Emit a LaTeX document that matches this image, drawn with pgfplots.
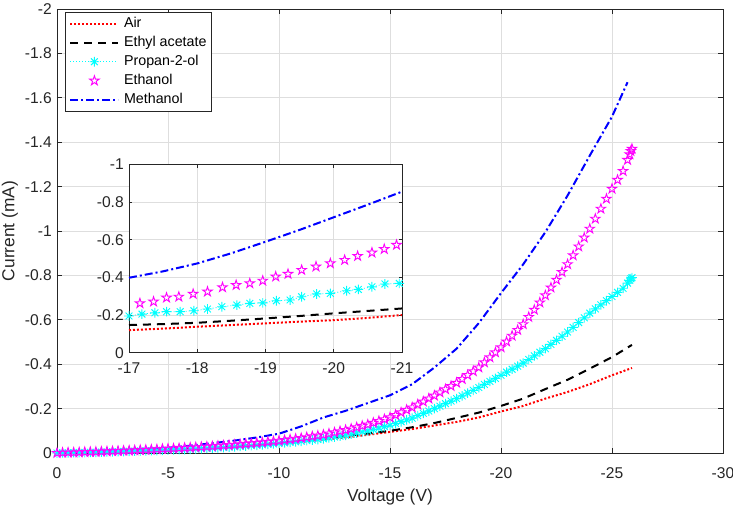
\documentclass[border=0pt]{standalone}
\usepackage{pgfplots}
\pgfplotsset{compat=1.18}
\usepackage{fontspec}
\setmainfont{Liberation Sans}
\usetikzlibrary{plotmarks}
\definecolor{axgray}{rgb}{0.15,0.15,0.15}
\definecolor{gridgray}{rgb}{0.87,0.87,0.87}
\definecolor{mred}{rgb}{1,0,0}
\definecolor{mcyan}{rgb}{0,1,1}
\definecolor{mmag}{rgb}{1,0,1}
\definecolor{mblue}{rgb}{0,0,1}
\pgfdeclareplotmark{pentagramo}{%
  \pgfpathmoveto{\pgfpointpolar{90}{1\pgfplotmarksize}}%
  \pgfpathlineto{\pgfpointpolar{126}{0.382\pgfplotmarksize}}%
  \pgfpathlineto{\pgfpointpolar{162}{1\pgfplotmarksize}}%
  \pgfpathlineto{\pgfpointpolar{198}{0.382\pgfplotmarksize}}%
  \pgfpathlineto{\pgfpointpolar{234}{1\pgfplotmarksize}}%
  \pgfpathlineto{\pgfpointpolar{270}{0.382\pgfplotmarksize}}%
  \pgfpathlineto{\pgfpointpolar{306}{1\pgfplotmarksize}}%
  \pgfpathlineto{\pgfpointpolar{342}{0.382\pgfplotmarksize}}%
  \pgfpathlineto{\pgfpointpolar{18}{1\pgfplotmarksize}}%
  \pgfpathlineto{\pgfpointpolar{54}{0.382\pgfplotmarksize}}%
  \pgfpathclose
  \pgfusepathqstroke
}
\pgfdeclareplotmark{matlabast}{%
  \pgfpathmoveto{\pgfqpoint{-\pgfplotmarksize}{0pt}}%
  \pgfpathlineto{\pgfqpoint{\pgfplotmarksize}{0pt}}%
  \pgfpathmoveto{\pgfqpoint{0pt}{-\pgfplotmarksize}}%
  \pgfpathlineto{\pgfqpoint{0pt}{\pgfplotmarksize}}%
  \pgfpathmoveto{\pgfqpoint{-0.707\pgfplotmarksize}{-0.707\pgfplotmarksize}}%
  \pgfpathlineto{\pgfqpoint{0.707\pgfplotmarksize}{0.707\pgfplotmarksize}}%
  \pgfpathmoveto{\pgfqpoint{-0.707\pgfplotmarksize}{0.707\pgfplotmarksize}}%
  \pgfpathlineto{\pgfqpoint{0.707\pgfplotmarksize}{-0.707\pgfplotmarksize}}%
  \pgfusepathqstroke
}
\pgfplotsset{
  matlab/.style={
    scale only axis,
    x dir=reverse, y dir=reverse,
    grid=major, major grid style={gridgray, line width=0.6pt},
    axis line style={axgray, line width=0.6pt},
    tick style={axgray, line width=0.6pt},
    tick align=inside, xtick pos=both, ytick pos=both,
    xticklabel pos=lower, yticklabel pos=left,
    tick label style={font=\fontsize{11.7}{13}\selectfont, text=axgray, inner sep=0pt},
    yticklabel style={anchor=base east, xshift=-3.75pt, yshift=-4.1pt},
  },
  airstyle/.style={mred, line width=1.5pt, dash pattern=on 1.5pt off 1.5pt},
  ethylstyle/.style={black, line width=1.5pt, dash pattern=on 6pt off 4.5pt},
  propstyle/.style={mcyan, line width=0.6pt, dash pattern=on 0.75pt off 1.5pt, mark=matlabast, mark size=3.6pt, mark options={solid, line width=0.7pt}},
  ethstyle/.style={mmag, only marks, mark=pentagramo, mark size=3.7pt, mark options={solid, line width=0.7pt}},
  methstyle/.style={mblue, line width=1.5pt, dash pattern=on 6pt off 2.25pt on 1.5pt off 2.25pt},
}
\begin{document}
\begin{tikzpicture}
\begin{axis}[matlab, name=main,
  width=499.5pt, height=333pt,
  xmin=-30, xmax=0, ymin=-2, ymax=0,
  xtick={0,-5,-10,-15,-20,-25,-30},
  xticklabels={0,-5,-10,-15,-20,-25,-30},
  ytick={0,-0.2,-0.4,-0.6,-0.8,-1,-1.2,-1.4,-1.6,-1.8,-2},
  yticklabels={0,-0.2,-0.4,-0.6,-0.8,-1,-1.2,-1.4,-1.6,-1.8,-2},
  major tick length=3.5pt,
  xticklabel style={anchor=base, yshift=-19pt},
  xlabel={Voltage (V)}, ylabel={Current (mA)},
  xlabel style={at={(axis description cs:0.5,-0.110)}, anchor=base, font=\fontsize{13}{15}\selectfont, text=axgray},
  ylabel style={at={(axis description cs:-0.064,0.5)}, anchor=base, font=\fontsize{13}{15}\selectfont, text=axgray},
  legend style={at={(axis description cs:0,1)}, anchor=north west, xshift=6pt, yshift=-2pt,
    draw=axgray, line width=0.6pt, fill=white, font=\fontsize{10.7}{12}\selectfont,
    inner xsep=3pt, inner ysep=3pt, row sep=2.75pt, column sep=3pt,
    nodes={inner sep=0.5pt, text height=8pt, text depth=2.5pt}},
  legend cell align=left,
  legend image code/.code={\draw[mark repeat=2,mark phase=2,#1] plot coordinates {(0pt,0pt) (18pt,0pt) (36pt,0pt)};},
]
\addplot[airstyle] coordinates {
(0,0) (-1,-0.002) (-2,-0.004) (-3,-0.006) (-4,-0.009) (-5,-0.012) (-6,-0.016) (-7,-0.021)
(-8,-0.027) (-9,-0.034) (-10,-0.042) (-11,-0.051) (-12,-0.060) (-13,-0.070) (-14,-0.082)
(-15,-0.095) (-16,-0.108) (-17,-0.124) (-18,-0.140) (-19,-0.160) (-20,-0.187) (-21,-0.212)
(-22,-0.245) (-23,-0.275) (-24,-0.310) (-25,-0.350) (-25.9,-0.383)};
\addlegendentry{Air}
\addplot[ethylstyle] coordinates {
(0,0) (-1,-0.002) (-2,-0.004) (-3,-0.007) (-4,-0.010) (-5,-0.014) (-6,-0.018) (-7,-0.023)
(-8,-0.029) (-9,-0.036) (-10,-0.045) (-11,-0.055) (-12,-0.066) (-13,-0.077) (-14,-0.088)
(-15,-0.100) (-16,-0.116) (-17,-0.135) (-18,-0.158) (-19,-0.182) (-20,-0.212) (-21,-0.245)
(-22,-0.288) (-23,-0.330) (-24,-0.380) (-25,-0.432) (-25.9,-0.487)};
\addlegendentry{Ethyl acetate}
\addplot[propstyle] coordinates {
(0,0) (-0.25,-0.0005) (-0.5,-0.001) (-0.75,-0.0015) (-1,-0.002) (-1.25,-0.0025) (-1.5,-0.003) (-1.75,-0.0035)
(-2,-0.004) (-2.25,-0.005) (-2.5,-0.0055) (-2.75,-0.006) (-3,-0.007) (-3.25,-0.008) (-3.5,-0.0085) (-3.75,-0.009)
(-4,-0.010) (-4.25,-0.011) (-4.5,-0.0115) (-4.75,-0.012) (-5,-0.013) (-5.25,-0.014) (-5.5,-0.015) (-5.75,-0.016)
(-6,-0.017) (-6.25,-0.018) (-6.5,-0.0195) (-6.75,-0.021) (-7,-0.022) (-7.25,-0.0235) (-7.5,-0.025) (-7.75,-0.0265)
(-8,-0.028) (-8.25,-0.030) (-8.5,-0.0315) (-8.75,-0.033) (-9,-0.035) (-9.25,-0.037) (-9.5,-0.039) (-9.75,-0.041)
(-10,-0.043) (-10.25,-0.0455) (-10.5,-0.048) (-10.75,-0.0505) (-11,-0.053) (-11.25,-0.056) (-11.5,-0.0585) (-11.75,-0.061)
(-12,-0.064) (-12.25,-0.068) (-12.5,-0.072) (-12.75,-0.076) (-13,-0.080) (-13.25,-0.085) (-13.5,-0.090) (-13.75,-0.095)
(-14,-0.100) (-14.25,-0.106) (-14.5,-0.1125) (-14.75,-0.119) (-15,-0.125) (-15.25,-0.133) (-15.5,-0.141) (-15.75,-0.149)
(-16,-0.157) (-16.25,-0.168) (-16.5,-0.1785) (-16.75,-0.189) (-17,-0.200) (-17.25,-0.211) (-17.5,-0.2225) (-17.75,-0.234)
(-18,-0.245) (-18.25,-0.2575) (-18.5,-0.270) (-18.75,-0.2825) (-19,-0.295) (-19.25,-0.309) (-19.5,-0.3225) (-19.75,-0.336)
(-20,-0.350) (-20.25,-0.364) (-20.5,-0.3775) (-20.75,-0.391) (-21,-0.405) (-21.25,-0.421) (-21.5,-0.4375) (-21.75,-0.454)
(-22,-0.470) (-22.25,-0.489) (-22.5,-0.5075) (-22.75,-0.526) (-23,-0.545) (-23.25,-0.566) (-23.5,-0.5875) (-23.75,-0.609)
(-24,-0.630) (-24.25,-0.649) (-24.5,-0.6675) (-24.75,-0.686) (-25,-0.705) (-25.25,-0.7235) (-25.5,-0.742) (-25.7,-0.765)
(-25.8,-0.778) (-25.85,-0.785) (-25.9,-0.790)};
\addlegendentry{Propan-2-ol}
\addplot[ethstyle] coordinates {
(0,0) (-0.25,-0.001) (-0.5,-0.002) (-0.75,-0.002) (-1,-0.003) (-1.25,-0.004) (-1.5,-0.0045) (-1.75,-0.005)
(-2,-0.006) (-2.25,-0.007) (-2.5,-0.008) (-2.75,-0.009) (-3,-0.010) (-3.25,-0.011) (-3.5,-0.012) (-3.75,-0.013)
(-4,-0.014) (-4.25,-0.015) (-4.5,-0.0165) (-4.75,-0.018) (-5,-0.019) (-5.25,-0.020) (-5.5,-0.0215) (-5.75,-0.023)
(-6,-0.024) (-6.25,-0.0255) (-6.5,-0.027) (-6.75,-0.0285) (-7,-0.030) (-7.25,-0.032) (-7.5,-0.0335) (-7.75,-0.035)
(-8,-0.037) (-8.25,-0.039) (-8.5,-0.041) (-8.75,-0.043) (-9,-0.045) (-9.25,-0.0475) (-9.5,-0.050) (-9.75,-0.0525)
(-10,-0.055) (-10.25,-0.058) (-10.5,-0.061) (-10.75,-0.064) (-11,-0.067) (-11.25,-0.071) (-11.5,-0.0745) (-11.75,-0.078)
(-12,-0.082) (-12.25,-0.087) (-12.5,-0.0925) (-12.75,-0.098) (-13,-0.103) (-13.25,-0.109) (-13.5,-0.1155) (-13.75,-0.122)
(-14,-0.128) (-14.25,-0.136) (-14.5,-0.144) (-14.75,-0.152) (-15,-0.160) (-15.25,-0.171) (-15.5,-0.1825) (-15.75,-0.194)
(-16,-0.205) (-16.25,-0.218) (-16.5,-0.2315) (-16.75,-0.245) (-17,-0.258) (-17.25,-0.2725) (-17.5,-0.287) (-17.75,-0.3015)
(-18,-0.316) (-18.25,-0.333) (-18.5,-0.3505) (-18.75,-0.368) (-19,-0.385) (-19.25,-0.408) (-19.5,-0.4305) (-19.75,-0.453)
(-20,-0.476) (-20.25,-0.502) (-20.5,-0.528) (-20.75,-0.554) (-21,-0.580) (-21.25,-0.6125) (-21.5,-0.645) (-21.75,-0.6775)
(-22,-0.710) (-22.25,-0.745) (-22.5,-0.780) (-22.75,-0.815) (-23,-0.850) (-23.25,-0.890) (-23.5,-0.930) (-23.75,-0.970)
(-24,-1.010) (-24.25,-1.055) (-24.5,-1.100) (-24.75,-1.145) (-25,-1.190) (-25.25,-1.230) (-25.5,-1.270) (-25.7,-1.320)
(-25.8,-1.345) (-25.85,-1.360) (-25.9,-1.370)};
\addlegendentry{Ethanol}
\addplot[methstyle] coordinates {
(0,0) (-1,-0.002) (-2,-0.006) (-3,-0.011) (-4,-0.017) (-5,-0.024) (-6,-0.033) (-7,-0.044)
(-8,-0.056) (-9,-0.070) (-10,-0.087) (-11,-0.120) (-12,-0.160) (-13,-0.190) (-14,-0.225)
(-15,-0.260) (-16,-0.310) (-17,-0.385) (-18,-0.470) (-19,-0.585) (-20,-0.720) (-21,-0.850)
(-22,-0.995) (-23,-1.160) (-24,-1.340) (-25,-1.515) (-25.7,-1.670)};
\addlegendentry{Methanol}
\end{axis}
\begin{axis}[matlab, at={(54pt,75.2pt)}, anchor=south west,
  width=204.75pt, height=141.3pt,
  xmin=-21, xmax=-17, ymin=-1, ymax=0,
  xtick={-17,-18,-19,-20,-21},
  xticklabels={-17,-18,-19,-20,-21},
  ytick={0,-0.2,-0.4,-0.6,-0.8,-1},
  yticklabels={0,-0.2,-0.4,-0.6,-0.8,-1},
  major tick length=2.5pt,
  xticklabel style={anchor=base, yshift=-15.2pt},
  axis background/.style={fill=white},
  clip mode=individual,
]
\addplot[airstyle] coordinates {
(-17,-0.120) (-17.5,-0.128) (-18,-0.138) (-18.5,-0.147) (-19,-0.156) (-19.5,-0.165) (-20,-0.173) (-20.5,-0.185) (-21,-0.200)};
\addplot[ethylstyle] coordinates {
(-17,-0.147) (-17.5,-0.152) (-18,-0.159) (-18.5,-0.170) (-19,-0.182) (-19.5,-0.195) (-20,-0.209) (-20.5,-0.222) (-21,-0.235)};
\addplot[propstyle] coordinates {
(-17,-0.195) (-17.19,-0.205) (-17.38,-0.212) (-17.55,-0.218) (-17.75,-0.218) (-17.95,-0.223) (-18.15,-0.232)
(-18.36,-0.244) (-18.58,-0.253) (-18.77,-0.262) (-18.96,-0.265) (-19.16,-0.276) (-19.36,-0.280) (-19.53,-0.297)
(-19.75,-0.312) (-19.95,-0.315) (-20.19,-0.329) (-20.36,-0.336) (-20.56,-0.350) (-20.75,-0.365) (-20.96,-0.368)};
\addplot[ethstyle] coordinates {
(-17.16,-0.262) (-17.36,-0.271) (-17.55,-0.292) (-17.73,-0.297) (-17.94,-0.312) (-18.15,-0.324) (-18.37,-0.347)
(-18.57,-0.359) (-18.77,-0.368) (-18.96,-0.382) (-19.15,-0.404) (-19.33,-0.418) (-19.53,-0.439) (-19.74,-0.457)
(-19.95,-0.474) (-20.16,-0.492) (-20.35,-0.513) (-20.56,-0.531) (-20.74,-0.550) (-20.92,-0.572)};
\addplot[methstyle] coordinates {
(-17,-0.398) (-17.5,-0.432) (-18,-0.474) (-18.5,-0.528) (-19,-0.589) (-19.5,-0.652) (-20,-0.719) (-20.5,-0.786) (-21,-0.855)};
\end{axis}
\pgfresetboundingbox
\useasboundingbox (-42.75pt,-40.5pt) rectangle (507pt,339.75pt);
\end{tikzpicture}
\end{document}
